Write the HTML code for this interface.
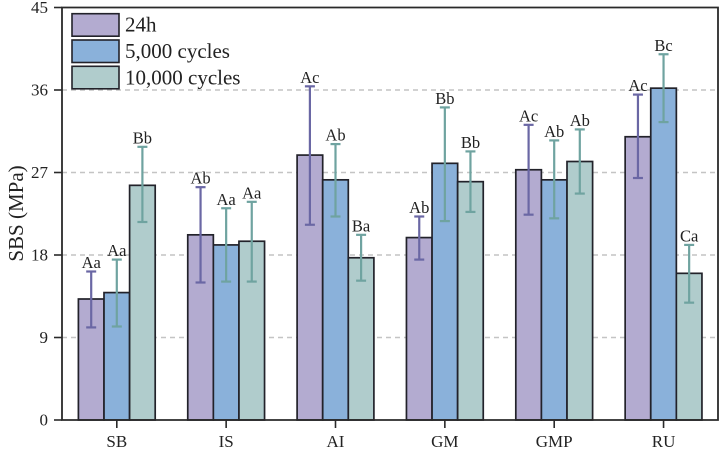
<!DOCTYPE html>
<html lang="en">
<head>
<meta charset="utf-8">
<title>SBS (MPa) bar chart</title>
<style>
html,body{margin:0;padding:0;background:#fff;width:725px;height:453px;overflow:hidden}
svg{display:block;font-family:"Liberation Serif",serif;filter:blur(0.35px)}
</style>
</head>
<body>
<svg id="chart" width="725" height="453" viewBox="0 0 725 453" xmlns="http://www.w3.org/2000/svg"></svg>
<script>
const categories = ["SB", "IS", "AI", "GM", "GMP", "RU"];
const seriesNames = ["24h", "5,000 cycles", "10,000 cycles"];
const yTicks = [0, 9, 18, 27, 36, 45];

const values24h = [13.2, 20.2, 28.9, 19.9, 27.3, 30.9];
const upper24h = [16.2, 25.4, 36.4, 22.2, 32.2, 35.5];
const lower24h = [10.1, 15.0, 21.3, 17.5, 22.4, 26.4];
const labels24h = ["Aa", "Ab", "Ac", "Ab", "Ac", "Ac"];

const values5k = [13.9, 19.1, 26.2, 28.0, 26.2, 36.2];
const upper5k = [17.5, 23.1, 30.1, 34.1, 30.5, 39.9];
const lower5k = [10.2, 15.1, 22.2, 21.7, 22.0, 32.5];
const labels5k = ["Aa", "Aa", "Ab", "Bb", "Ab", "Bc"];

const values10k = [25.6, 19.5, 17.7, 26.0, 28.2, 16.0];
const upper10k = [29.8, 23.8, 20.2, 29.3, 31.7, 19.1];
const lower10k = [21.6, 15.1, 15.2, 22.7, 24.7, 12.8];
const labels10k = ["Bb", "Aa", "Ba", "Bb", "Ab", "Ca"];

const svg = document.getElementById('chart');
const NS = 'http://www.w3.org/2000/svg';
const plotLeft = 62, plotRight = 718, plotTop = 7.5, plotBottom = 420;
const yMax = 45;
const firstCenter = 116.8, catStep = 109.35, barWidth = 25.6;

function yScale(v) { return plotBottom - (v / yMax) * (plotBottom - plotTop); }
function xCenter(i) { return firstCenter + i * catStep; }
function barX(i, s) { return xCenter(i) - 1.5 * barWidth + s * barWidth; }

function make(tag, attrs, parent) {
  const el = document.createElementNS(NS, tag);
  for (const k in attrs) el.setAttribute(k, attrs[k]);
  (parent || svg).appendChild(el);
  return el;
}

const series = [
  { key: 'series-24h', values: values24h, upper: upper24h, lower: lower24h, labels: labels24h, fill: '#b3abd0', err: '#6a67a4' },
  { key: 'series-5000-cycles', values: values5k, upper: upper5k, lower: lower5k, labels: labels5k, fill: '#8ab1da', err: '#6fa3a0' },
  { key: 'series-10000-cycles', values: values10k, upper: upper10k, lower: lower10k, labels: labels10k, fill: '#b0cccc', err: '#6fa3a0' }
];

// Gridlines
yTicks.forEach(function (t) {
  if (t === 0 || t === yMax) return;
  const g = make('line', { x1: plotLeft, x2: plotRight, y1: yScale(t), y2: yScale(t), stroke: '#c4c4c4', 'stroke-width': 1.4, 'stroke-dasharray': '5 4' });
  
  
});

// Bars
series.forEach(function (s, si) {
  s.values.forEach(function (v, i) {
    const r = make('rect', { x: barX(i, si), y: yScale(v), width: barWidth, height: plotBottom - yScale(v), fill: s.fill, stroke: '#22222a', 'stroke-width': 1.7 });
    
    
  });
});

// Error bars and significance labels
series.forEach(function (s, si) {
  s.values.forEach(function (v, i) {
    const cx = barX(i, si) + barWidth / 2;
    const yHi = yScale(s.upper[i]), yLo = yScale(s.lower[i]);
    const g = make('g', { stroke: s.err, 'stroke-width': 2.2, fill: 'none' });
    
    
    make('line', { x1: cx, x2: cx, y1: yHi, y2: yLo }, g);
    make('line', { x1: cx - 5, x2: cx + 5, y1: yHi, y2: yHi }, g);
    make('line', { x1: cx - 5, x2: cx + 5, y1: yLo, y2: yLo }, g);
    const t = make('text', { x: cx, y: yHi - 3.5, 'text-anchor': 'middle', 'font-size': 16.5, fill: '#222' });
    
    
    t.textContent = s.labels[i];
  });
});

// Frame
const frame = make('path', { d: 'M' + plotLeft + ' ' + plotBottom + 'V' + plotTop + 'H' + plotRight + 'V' + plotBottom + 'Z', fill: 'none', stroke: '#2a2a2a', 'stroke-width': 1.8 });



// Y axis ticks
yTicks.forEach(function (t) {
  const y = yScale(t);
  const tick = make('line', { x1: 54, x2: plotLeft, y1: y, y2: y, stroke: '#2a2a2a', 'stroke-width': 1.6 });
  
  
  const lab = make('text', { x: 48, y: y + 5.5, 'text-anchor': 'end', 'font-size': 17, fill: '#222' });
  
  
  lab.textContent = t;
});

// X axis ticks
categories.forEach(function (c, i) {
  const x = xCenter(i);
  const tick = make('line', { x1: x, x2: x, y1: plotBottom, y2: 428, stroke: '#2a2a2a', 'stroke-width': 1.6 });
  
  
  const lab = make('text', { x: x, y: 447, 'text-anchor': 'middle', 'font-size': 17, fill: '#222' });
  
  
  lab.textContent = c;
});

// Y axis title
const title = make('text', { x: 0, y: 0, transform: 'translate(23 213.5) rotate(-90)', 'text-anchor': 'middle', 'font-size': 21, fill: '#222' });


title.textContent = 'SBS (MPa)';

// Legend
series.forEach(function (s, si) {
  const top = 13.7 + si * 26.3;
  const g = make('g', {});
  
  
  make('rect', { x: 72, y: top, width: 47, height: 22.5, fill: s.fill, stroke: '#22222a', 'stroke-width': 1.6 }, g);
  const t = make('text', { x: 125, y: top + 18, 'font-size': 21, fill: '#222' }, g);
  t.textContent = seriesNames[si];
});
</script>
</body>
</html>
